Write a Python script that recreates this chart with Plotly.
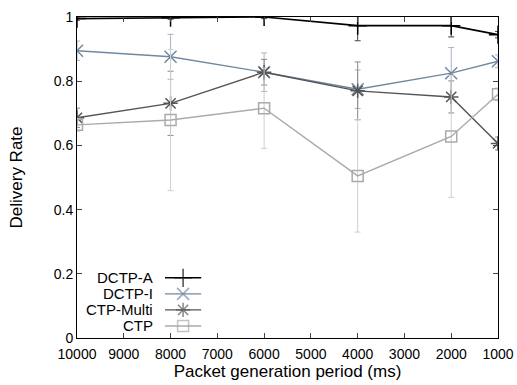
import plotly.graph_objects as go

periods = [10000, 8000, 6000, 4000, 2000, 1000]
series_names = ["DCTP-A", "DCTP-I", "CTP-Multi", "CTP"]
dctp_a = [0.995, 0.998, 1.0, 0.973, 0.973, 0.945]
dctp_a_err = [0.005, 0.005, 0.005, 0.047, 0.035, 0.01]
dctp_i = [0.895, 0.876, 0.828, 0.775, 0.825, 0.862]
dctp_i_err = [0.03, 0.07, 0.06, 0.06, 0.08, 0.02]
ctp_multi = [0.686, 0.731, 0.828, 0.770, 0.751, 0.606]
ctp_multi_err = [0.03, 0.10, 0.04, 0.09, 0.05, 0.02]
ctp = [0.664, 0.679, 0.716, 0.505, 0.628, 0.759]
ctp_err = [0.02, 0.22, 0.125, 0.175, 0.19, 0.02]
x_ticks = [10000, 9000, 8000, 7000, 6000, 5000, 4000, 3000, 2000, 1000]
x_ticklabels = ["10000", "9000", "8000", "7000", "6000", "5000", "4000", "3000", "2000", "1000"]
y_ticks = [0, 0.2, 0.4, 0.6, 0.8, 1]
y_ticklabels = ["0", "0.2", "0.4", "0.6", "0.8", "1"]

styles = [
    dict(color="#000000", err="#444444", symbol="cross-thin", size=13, width=1.6),
    dict(color="#7088a0", err="#a8b4c2", symbol="x-thin", size=12, width=1.4),
    dict(color="#555555", err="#8a8a8a", symbol="asterisk", size=12, width=1.4),
    dict(color="#aaaaaa", err="#cfcfcf", symbol="square-open", size=11, width=1.4),
]
data = [(dctp_a, dctp_a_err), (dctp_i, dctp_i_err), (ctp_multi, ctp_multi_err), (ctp, ctp_err)]

fig = go.Figure()
for name, (vals, errs), st in zip(series_names, data, styles):
    fig.add_trace(go.Scatter(
        x=periods, y=vals, name=name, mode="lines+markers",
        line=dict(color=st["color"], width=st["width"]),
        marker=dict(symbol=st["symbol"], size=st["size"], color=st["color"],
                    line=dict(color=st["color"], width=1.5)),
        error_y=dict(type="data", array=errs, visible=True, color=st["err"],
                     thickness=1, width=3),
        showlegend=False, cliponaxis=True,
    ))

# gnuplot-style key (text right-aligned, sample to the right)
key_rows = [0.1875, 0.1375, 0.0875, 0.0375]
for name, st, ky in zip(series_names, styles, key_rows):
    fig.add_trace(go.Scatter(
        x=[0.209, 0.252, 0.295], y=[ky, ky, ky], xaxis="x2", yaxis="y2",
        mode="lines+markers",
        line=dict(color=st["color"], width=st["width"]),
        marker=dict(symbol=st["symbol"], size=[0, st["size"], 0], color=st["color"],
                    line=dict(color=st["color"], width=1.5)),
        showlegend=False, hoverinfo="skip",
    ))
    fig.add_annotation(x=0.186, y=ky, xref="x2", yref="y2", text=name,
                       showarrow=False, xanchor="right", yanchor="middle",
                       font=dict(size=15, color="#000000"))

fig.update_layout(
    width=517, height=385,
    margin=dict(l=77, r=19, t=17, b=47),
    paper_bgcolor="white", plot_bgcolor="white",
    font=dict(family="Liberation Sans, Arial, sans-serif", size=14, color="#000000"),
    xaxis=dict(range=[10000, 1000], tickvals=x_ticks, ticktext=x_ticklabels,
               ticks="inside", ticklen=5, ticklabelstandoff=3, automargin=False,
               showline=True, linecolor="#000000", linewidth=1, mirror="allticks",
               showgrid=False, zeroline=False,
               title=dict(text="Packet generation period (ms)", standoff=2)),
    yaxis=dict(range=[0, 1.0], tickvals=y_ticks, ticktext=y_ticklabels,
               ticks="inside", ticklen=5, automargin=False,
               showline=True, linecolor="#000000", linewidth=1, mirror="allticks",
               showgrid=False, zeroline=False,
               title=dict(text="Delivery Rate", standoff=26)),
    xaxis2=dict(range=[0, 1], overlaying="x", visible=False),
    yaxis2=dict(range=[0, 1], overlaying="y", visible=False),
)

fig.write_html("out.html")
